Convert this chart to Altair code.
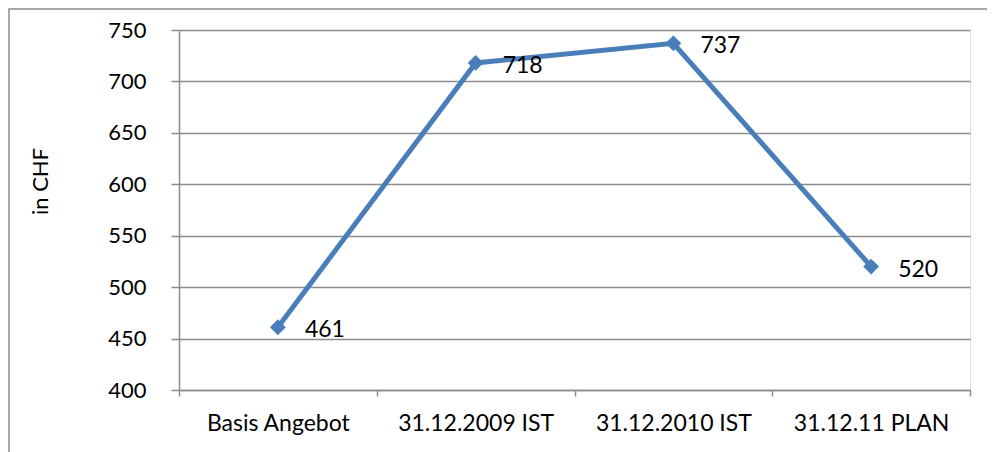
import altair as alt
import pandas as pd

categories = ["Basis Angebot", "31.12.2009 IST", "31.12.2010 IST", "31.12.11 PLAN"]
values = [461, 718, 737, 520]

df = pd.DataFrame({"cat": categories, "val": values})

FONT = "Lato"
BLUE = "#4a7ebb"
GRID = "#8c8c8c"

xenc = alt.X("cat:N", sort=categories, bandPosition=0.5,
             scale=alt.Scale(type="band", paddingInner=0, paddingOuter=0),
             axis=alt.Axis(title=None, labelAngle=0, tickBand="extent", tickSize=6,
                           labelPadding=16, labelFontSize=23, labelFont=FONT,
                           labelColor="#000000", domainColor=GRID, tickColor=GRID,
                           domainWidth=1.5, tickWidth=1.5, grid=False))
yenc = alt.Y("val:Q", scale=alt.Scale(domain=[400, 750], nice=False, zero=False),
             axis=alt.Axis(title="in CHF", values=list(range(400, 751, 50)), tickSize=8,
                           labelPadding=25, labelFontSize=22, labelFont=FONT,
                           labelColor="#000000", titleFont=FONT, titleFontSize=22,
                           titleFontWeight="normal", titleColor="#000000",
                           titleX=-139, titleY=151, titleAngle=-90,
                           titleAlign="center", titleBaseline="middle",
                           domainColor=GRID, tickColor=GRID, domainWidth=1.5,
                           tickWidth=1.5, grid=True, gridColor=GRID, gridWidth=1.5))

frame_df = pd.DataFrame({"k": [0]})
frame = alt.Chart(frame_df).mark_rect(fill=None, stroke="#8c8c8c", strokeWidth=1.5).encode(
    x=alt.value(-170), x2=alt.value(840), y=alt.value(-21), y2=alt.value(450)
)

base = alt.Chart(df)
line = base.mark_line(color=BLUE, strokeWidth=5).encode(x=xenc, y=yenc)
pts = base.mark_point(shape="diamond", filled=True, color=BLUE, size=250, opacity=1).encode(x=xenc, y=yenc)
txt = base.mark_text(align="left", baseline="middle", dx=27, dy=3, fontSize=23, font=FONT,
                     color="#000000").encode(x=xenc, y=yenc, text="val:Q")

chart = alt.layer(frame, line, pts, txt).properties(
    width=791, height=360,
    padding={"left": 171, "top": 22, "right": 17, "bottom": 62},
    autosize=alt.AutoSizeParams(type="none"),
).configure_view(stroke=None).configure(background="white")

chart.save("out.html", embed_options={"renderer": "svg", "actions": False})
